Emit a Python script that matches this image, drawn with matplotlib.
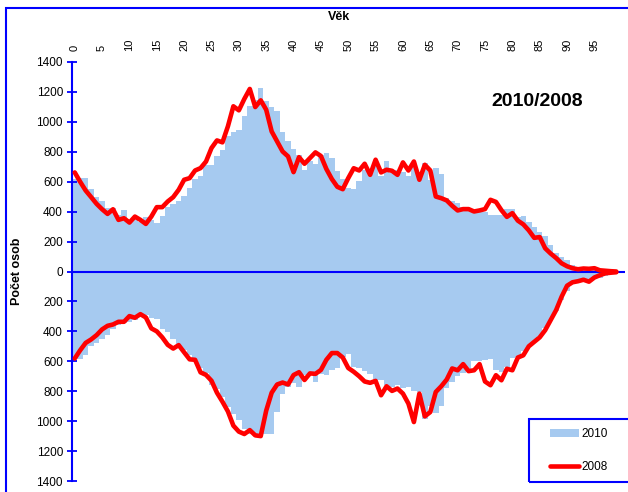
import numpy as np
import matplotlib
matplotlib.use("Agg")
import matplotlib.pyplot as plt
from matplotlib.ticker import FuncFormatter
from matplotlib.patches import Rectangle, Patch
from matplotlib.lines import Line2D

plt.rcParams['font.family'] = ['Liberation Sans', 'DejaVu Sans']

# ---------------- data ----------------
ages = list(range(101))
tick_ages = list(range(0, 100, 5))

# 2010 (bars), upper half
muzi_2010 = [615, 625, 625, 550, 501, 468, 423, 423, 380, 412,
             345, 356, 334, 363, 345, 327, 372, 430, 452, 468,
             506, 557, 619, 635, 709, 709, 769, 814, 907, 930,
             948, 1041, 1108, 1148, 1227, 1140, 1100, 1070, 935, 875,
             820, 780, 675, 740, 720, 780, 790, 760, 673, 617,
             560, 553, 608, 680, 670, 715, 640, 738, 655, 675,
             665, 640, 720, 668, 725, 610, 690, 650, 490, 470,
             460, 430, 410, 400, 400, 395, 380, 375, 375, 420,
             415, 365, 370, 330, 300, 265, 235, 180, 125, 95,
             75, 45, 30, 20, 15, 12, 10, 6, 4, 2, 1]

# 2010 (bars), lower half (magnitudes)
zeny_2010 = [588, 588, 555, 499, 477, 448, 425, 381, 358, 343,
             336, 325, 298, 291, 313, 320, 381, 403, 454, 508,
             526, 559, 593, 648, 677, 760, 782, 838, 905, 954,
             994, 1050, 1084, 1088, 1084, 1088, 1088, 939, 816, 771,
             744, 771, 693, 682, 738, 682, 693, 660, 648, 570,
             553, 637, 648, 664, 686, 722, 727, 760, 770, 760,
             776, 770, 798, 805, 985, 900, 945, 900, 776, 738,
             700, 677, 650, 600, 600, 590, 585, 660, 672, 640,
             580, 570, 530, 495, 462, 430, 380, 325, 265, 190,
             130, 85, 65, 60, 55, 50, 45, 30, 20, 10, 5]

# 2008 (line), upper half, ages 0-99
muzi_2008 = [662, 599, 541, 497, 452, 416, 385, 416, 345, 356,
             327, 367, 345, 318, 367, 430, 430, 468, 497, 546,
             613, 624, 675, 691, 735, 825, 876, 863, 970, 1104,
             1077, 1153, 1220, 1099, 1144, 1081, 936, 869, 802, 769,
             664, 764, 720, 758, 796, 772, 685, 618, 566, 550,
             624, 690, 675, 720, 646, 747, 662, 680, 673, 646,
             729, 675, 735, 613, 713, 675, 501, 490, 475, 439,
             408, 417, 417, 401, 408, 417, 479, 465, 410, 365,
             390, 340, 315, 275, 225, 230, 155, 120, 90, 55,
             35, 22, 15, 20, 18, 22, 8, 5, 2, 0]

# 2008 (line), lower half (magnitudes), ages 0-99
zeny_2008 = [581, 526, 477, 454, 425, 387, 363, 354, 336, 336,
             298, 309, 285, 307, 380, 400, 440, 490, 515, 492,
             540, 587, 590, 674, 691, 730, 810, 870, 935, 1030,
             1070, 1086, 1060, 1095, 1100, 930, 810, 755, 742, 755,
             692, 673, 725, 681, 684, 658, 590, 545, 545, 575,
             645, 670, 700, 735, 744, 731, 827, 767, 798, 782,
             816, 883, 1006, 816, 968, 939, 805, 767, 722, 648,
             660, 619, 666, 660, 619, 735, 760, 693, 727, 650,
             660, 575, 560, 500, 470, 440, 392, 325, 258, 169,
             95, 72, 65, 55, 68, 40, 25, 12, 8, 5]

# ---------------- styling ----------------
BAR_COLOR = '#A6CAF0'
LINE_COLOR = '#FF0000'
AXIS_BLUE = '#0000FF'

W, H = 628, 492
fig = plt.figure(figsize=(W / 100, H / 100), dpi=100)


def fx(px):
    return px / W


def fy(py):
    return 1 - py / H


ax = fig.add_axes([fx(72), fy(481), fx(624.5) - fx(72), (481 - 62) / H])

ax.bar(ages, muzi_2010, width=1.0, color=BAR_COLOR, linewidth=0, zorder=1)
ax.bar(ages, [-v for v in zeny_2010], width=1.0, color=BAR_COLOR, linewidth=0, zorder=1)
ax.axhline(0, color=AXIS_BLUE, lw=1.5, zorder=2)
ax.plot(ages[:len(muzi_2008)], muzi_2008, color=LINE_COLOR, lw=3.3,
        solid_joinstyle='round', solid_capstyle='round', zorder=3, clip_on=False)
ax.plot(ages[:len(zeny_2008)], [-v for v in zeny_2008], color=LINE_COLOR, lw=3.3,
        solid_joinstyle='round', solid_capstyle='round', zorder=3, clip_on=False)

ax.set_xlim(-0.5, 100.5)
ax.set_ylim(-1400, 1400)

ax.set_yticks(list(range(-1400, 1401, 200)))
ax.yaxis.set_major_formatter(FuncFormatter(lambda v, p: f"{abs(int(round(v)))}"))
ax.tick_params(axis='y', direction='inout', length=7, width=1.3, colors=AXIS_BLUE,
               labelcolor='black', labelsize=8.5, pad=3)

ax.xaxis.tick_top()
ax.set_xticks(tick_ages)
ax.set_xticklabels([str(a) for a in tick_ages], rotation=90)
ax.tick_params(axis='x', length=0, labelsize=8, pad=8, labelcolor='black')

for s in ['top', 'right', 'bottom']:
    ax.spines[s].set_visible(False)
ax.spines['left'].set_color(AXIS_BLUE)
ax.spines['left'].set_linewidth(1.5)
ax.patch.set_alpha(0)

fig.text(fx(339), fy(17), 'Věk', ha='center', va='center', fontsize=9, fontweight='bold')
fig.text(fx(17), fy(271), 'Počet osob', ha='center', va='center', rotation=90,
         fontsize=9, fontweight='bold')
fig.text(fx(537), fy(102), '2010/2008', ha='center', va='center', fontsize=14,
         fontweight='bold')

# outer chart border (only left and top visible in the crop)
fig.patches.append(Rectangle((fx(6), -0.1), 1.2, fy(8) + 0.1, transform=fig.transFigure,
                             fill=False, edgecolor=AXIS_BLUE, lw=1.5))
# legend frame
fig.patches.append(Rectangle((fx(529), fy(482)), 0.3, (482 - 419) / H,
                             transform=fig.transFigure, fill=False,
                             edgecolor=AXIS_BLUE, lw=1.5))

handles = [Patch(facecolor=BAR_COLOR, edgecolor='none'),
           Line2D([0], [0], color=LINE_COLOR, lw=3.3, solid_capstyle='round')]
fig.legend(handles, ['2010', '2008'], loc='upper left',
           bbox_to_anchor=(fx(550), fy(428)), frameon=False, fontsize=8.5,
           handlelength=2.45, labelspacing=1.75, handletextpad=0.25,
           borderpad=0, borderaxespad=0)

fig.savefig('out.png', dpi=100)
